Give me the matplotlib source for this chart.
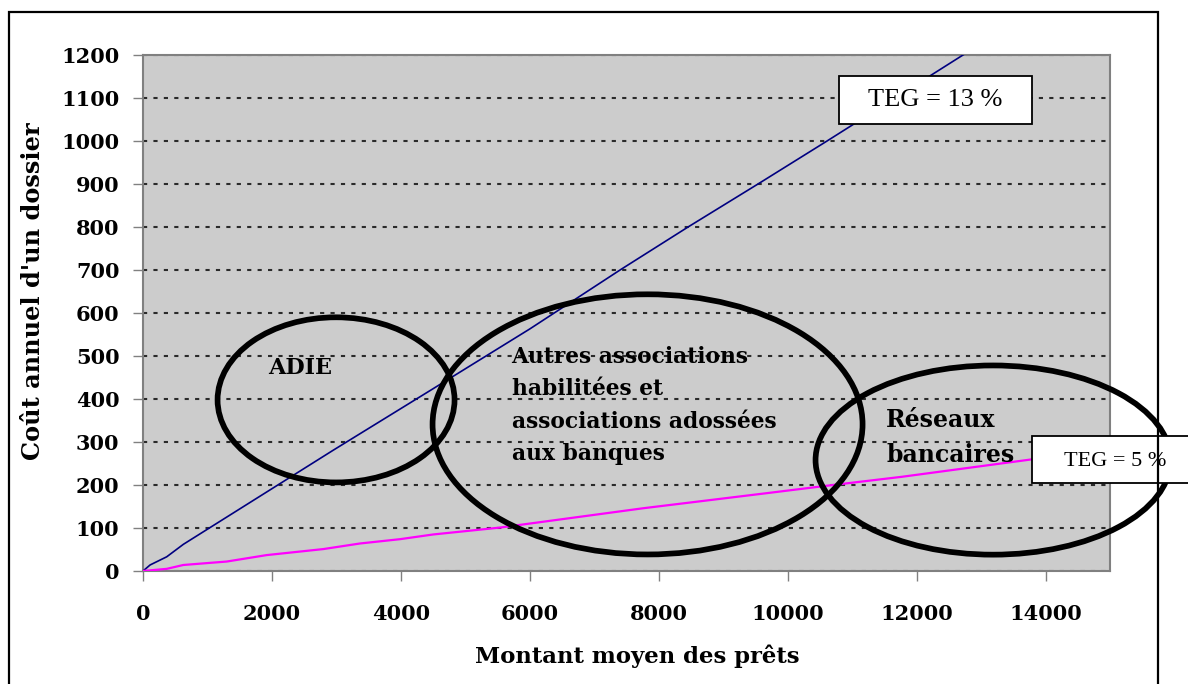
import matplotlib
matplotlib.use("Agg")
import matplotlib.pyplot as plt
from matplotlib.patches import Ellipse, Rectangle

# data
montant_13 = [0, 109, 367, 625, 2951, 4500, 6000, 7399, 8454, 9539, 10610, 12719, 15000]
cout_13 = [0, 14, 33, 62, 281, 424, 563, 700, 800, 900, 1000, 1200, 1410]

montant_5 = [0, 367, 625, 1298, 1918, 2797, 3366, 3986, 4503, 5537, 7761, 9674,
             10700, 11766, 13805, 15000]
cout_5 = [0, 5, 14, 22, 37, 51, 64, 74, 85, 101, 146, 181, 200, 219, 260, 285]

x_ticks = [0, 2000, 4000, 6000, 8000, 10000, 12000, 14000]
y_ticks = list(range(0, 1300, 100))

# zones (centre x, centre y, width, height) in data units
zones = {
    "ADIE": (2994, 398, 3676, 384),
    "Autres": (7826, 341, 6670, 605),
    "Reseaux": (13185, 258, 5507, 440),
}

serif_bold = dict(family="DejaVu Serif", fontweight="bold")

fig = plt.figure(figsize=(11.88, 6.84), dpi=100)
ax = fig.add_axes([0.1204, 0.1652, 0.8140, 0.7544])
ax.set_facecolor("#cccccc")

# outer frame
fig.patches.append(Rectangle((0.0076, -0.02), 0.9671, 1.0025, transform=fig.transFigure,
                             fill=False, edgecolor="black", linewidth=1.6))

ax.plot(montant_13, cout_13, color="#000080", linewidth=1.2, zorder=3)
ax.plot(montant_5, cout_5, color="#ff00ff", linewidth=1.6, zorder=3)

ax.set_xlim(0, 15000)
ax.set_ylim(0, 1200)
ax.set_xticks(x_ticks)
ax.set_yticks(y_ticks)
ax.set_xticklabels([str(v) for v in x_ticks], fontsize=15, **serif_bold)
ax.set_yticklabels([str(v) for v in y_ticks], fontsize=15, **serif_bold)
ax.tick_params(axis="both", direction="out", length=7, width=1, color="#808080")
ax.tick_params(axis="x", pad=17)
ax.tick_params(axis="y", pad=10)

for side in ["left", "bottom", "top", "right"]:
    ax.spines[side].set_color("#808080")
    ax.spines[side].set_linewidth(1.5)

ax.grid(axis="y", linestyle=(0, (2, 3)), linewidth=1.5, color="#2a2a2a", zorder=1)
ax.set_axisbelow(True)

ax.set_xlabel("Montant moyen des prêts", fontsize=16.4, va="center", **serif_bold)
ax.xaxis.set_label_coords(0.511, -0.165)
ax.set_ylabel("Coût annuel d'un dossier", fontsize=17.3, va="center", **serif_bold)
ax.yaxis.set_label_coords(-0.114, 0.543)

for name, (cx, cy, w, h) in zones.items():
    ax.add_patch(Ellipse((cx, cy), w, h, fill=False, edgecolor="black",
                         linewidth=4.1, clip_on=False, zorder=4))

ax.text(1939, 472, "ADIE", fontsize=16, va="center", ha="left", zorder=5, **serif_bold)
ax.text(5717, 524, "Autres associations\nhabilitées et\nassociations adossées\naux banques",
        fontsize=15.7, va="top", ha="left", linespacing=1.62, zorder=5, **serif_bold)
ax.text(11525, 379, "Réseaux\nbancaires", fontsize=17, va="top", ha="left",
        linespacing=1.58, zorder=5, **serif_bold)

# TEG boxes
ax.add_patch(Rectangle((10796, 1040), 2994, 111, facecolor="white", edgecolor="black",
                       linewidth=1.3, clip_on=False, zorder=6))
ax.text(12293, 1096, "TEG = 13 %", fontsize=19, family="Liberation Serif",
        ha="center", va="center", zorder=7)
ax.add_patch(Rectangle((13790, 205), 2700, 109, facecolor="white", edgecolor="black",
                       linewidth=1.3, clip_on=False, zorder=6))
ax.text(15077, 255, "TEG = 5 %", fontsize=16, family="Liberation Serif",
        ha="center", va="center", zorder=7)

fig.savefig("out.png", dpi=100)
